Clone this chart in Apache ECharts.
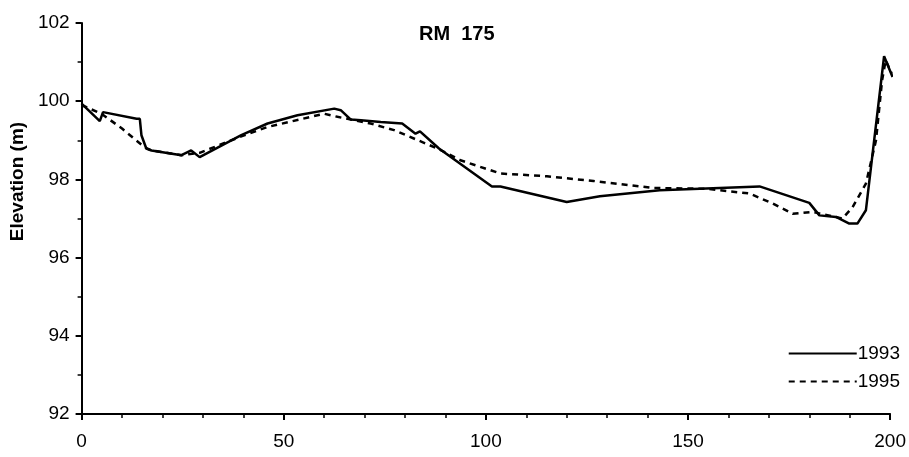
<!DOCTYPE html>
<html>
<head>
<meta charset="utf-8">
<script src="https://cdn.jsdelivr.net/npm/echarts@6/dist/echarts.min.js"></script>
<style>
  html, body { margin: 0; padding: 0; background: #fff; }
  #chart { width: 909px; height: 457px; }
</style>
</head>
<body>
<div id="chart"></div>
<script>
// Cross-section profile at RM 175: distance across (m) vs bed elevation (m)
const seriesNames = ['1993', '1995'];

const dist1993 = [0, 4.5, 5.3, 13.6, 14.4, 14.8, 16.0, 17.3, 24.7, 27.1, 29.2, 39.5, 46.0, 53.4, 62.5, 64.1, 66.6, 69.1, 74.0, 79.3, 82.6, 83.7, 88.4, 101.5, 103.6, 111.8, 120.0, 128.2, 143.0, 167.7, 180.0, 182.5, 186.6, 189.9, 191.9, 194.0, 198.5, 200.6];
const elev1993 = [99.94, 99.49, 99.72, 99.55, 99.55, 99.13, 98.79, 98.74, 98.62, 98.74, 98.57, 99.13, 99.43, 99.64, 99.81, 99.77, 99.53, 99.51, 99.47, 99.43, 99.17, 99.23, 98.79, 97.82, 97.82, 97.62, 97.42, 97.57, 97.72, 97.82, 97.40, 97.08, 97.04, 96.87, 96.87, 97.21, 101.15, 100.62];

const dist1995 = [0, 4.9, 10.0, 15.6, 17.3, 24.7, 29.2, 39.5, 46.0, 60.0, 63.3, 71.5, 77.3, 88.0, 93.7, 103.6, 115.1, 126.6, 141.4, 154.5, 165.2, 171.0, 175.9, 180.8, 183.3, 188.2, 190.7, 194.0, 196.5, 198.0, 198.9, 200.4];
const elev1995 = [99.90, 99.68, 99.30, 98.82, 98.74, 98.62, 98.68, 99.10, 99.34, 99.68, 99.60, 99.43, 99.26, 98.79, 98.49, 98.15, 98.08, 97.96, 97.78, 97.76, 97.64, 97.38, 97.12, 97.17, 97.11, 97.00, 97.29, 97.89, 99.00, 100.53, 101.05, 100.70];

const xTicks = { min: 0, max: 200, interval: 50 };
const yTicks = { min: 92, max: 102, interval: 2 };

const pair = (xs, ys) => xs.map((x, i) => [x, ys[i]]);

const FONT = '"Liberation Sans", Arial, Helvetica, sans-serif';
const chart = echarts.init(document.getElementById('chart'), null, { renderer: 'canvas' });

chart.setOption({
  animation: false,
  backgroundColor: '#ffffff',
  title: {
    text: 'RM  175',
    left: 414,
    top: 19,
    textStyle: { fontFamily: FONT, fontSize: 20, fontWeight: 'bold', color: '#000' }
  },
  legend: {
    orient: 'vertical',
    right: 4,
    top: 339,
    itemWidth: 68,
    itemHeight: 10,
    itemGap: 9,
    // only the line sample is shown, no point marker
    itemStyle: { color: 'rgba(0,0,0,0)', borderColor: 'rgba(0,0,0,0)', borderWidth: 0 },
    textStyle: { fontFamily: FONT, fontSize: 19, color: '#000', padding: [0, 0, 0, -4] },
    data: seriesNames
  },
  grid: { left: 80, right: 18, top: 23, bottom: 43, containLabel: false },
  xAxis: {
    type: 'value',
    min: xTicks.min,
    max: xTicks.max,
    interval: xTicks.interval,
    axisLine: { lineStyle: { color: '#000', width: 2 } },
    axisTick: { length: 6, lineStyle: { color: '#000', width: 2 } },
    minorTick: { show: true, splitNumber: 5, length: 4, lineStyle: { color: '#000', width: 1.5 } },
    splitLine: { show: false },
    axisLabel: { fontFamily: FONT, fontSize: 19, color: '#000', margin: 18 }
  },
  yAxis: {
    type: 'value',
    min: yTicks.min,
    max: yTicks.max,
    interval: yTicks.interval,
    name: 'Elevation (m)',
    nameLocation: 'middle',
    nameGap: 42,
    nameTextStyle: { fontFamily: FONT, fontSize: 19, fontWeight: 'bold', color: '#000', padding: [0, 0, 0, 74] },
    axisLine: { show: true, lineStyle: { color: '#000', width: 2 } },
    axisTick: { show: true, length: 6, lineStyle: { color: '#000', width: 2 } },
    minorTick: { show: true, splitNumber: 2, length: 4, lineStyle: { color: '#000', width: 1.5 } },
    splitLine: { show: false },
    axisLabel: { fontFamily: FONT, fontSize: 19, color: '#000', margin: 12 }
  },
  series: [
    {
      name: seriesNames[0],
      type: 'line',
      data: pair(dist1993, elev1993),
      symbol: 'none',
      lineStyle: { color: '#000', width: 2.5, type: 'solid' },
      itemStyle: { color: '#000' }
    },
    {
      name: seriesNames[1],
      type: 'line',
      data: pair(dist1995, elev1995),
      symbol: 'none',
      lineStyle: { color: '#000', width: 2.5, type: [6, 5] },
      itemStyle: { color: '#000' }
    }
  ]
});
</script>
</body>
</html>
